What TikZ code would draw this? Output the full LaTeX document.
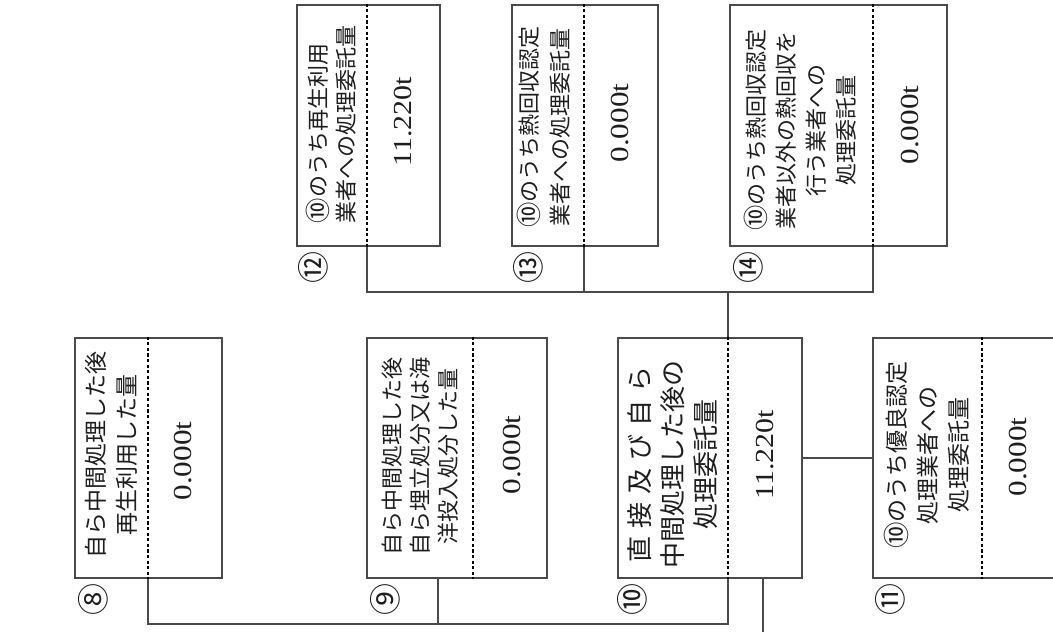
\documentclass[tikz,border=0pt]{standalone}
\usepackage{fontspec}
\newfontfamily\jp{Noto Sans CJK JP}
\newfontfamily\num{Liberation Serif}
\usetikzlibrary{calc}
\definecolor{InkDark}{HTML}{1E1E1E}
\definecolor{FrameGrey}{HTML}{4A4A4A}
\newcommand{\circten}{\raisebox{-0.05em}{\scalebox{1.15}{⑩}}}

\begin{document}
\begin{tikzpicture}[x=1pt,y=-1pt,
  formbox/.style={draw=FrameGrey,line width=2.7pt,inner sep=0pt},
  divider/.style={draw=black,line width=2.8pt,dash pattern=on 3.2pt off 2.4pt},
  wire/.style={draw=FrameGrey,line width=2.7pt},
  jptext/.style={rotate=90,align=center,text=InkDark,inner sep=0pt,font=\jp\fontsize{22}{29}\selectfont},
  amount/.style={rotate=90,text=InkDark,inner sep=0pt,font=\num\fontsize{26}{30}\selectfont},
  tag/.style={rotate=90,text=InkDark,inner sep=0pt,font=\jp\fontsize{32}{34}\selectfont}]
  \useasboundingbox (0,0) rectangle (1053,632);
  \clip (0,0) rectangle (1053,632);

  % upper row
  \node[formbox,minimum width=143,minimum height=241] (b12) at (368.5,125.5) {};
  \node[formbox,minimum width=146,minimum height=241] (b13) at (585,125.5) {};
  \node[formbox,minimum width=217,minimum height=241] (b14) at (838.5,125.5) {};
  % lower row
  \node[formbox,minimum width=147,minimum height=240] (b8) at (148.5,458) {};
  \node[formbox,minimum width=180,minimum height=240] (b9) at (457,458) {};
  \node[formbox,minimum width=184,minimum height=240] (b10) at (710,458) {};
  \node[formbox,minimum width=227,minimum height=240] (b11) at (986.5,458) {};

  % divider positions
  \coordinate (d8) at (148,0);
  \coordinate (d9) at (473,0);
  \coordinate (d10) at (728,0);
  \coordinate (d11) at (982,0);
  \coordinate (d12) at (367,0);
  \coordinate (d13) at (584,0);
  \coordinate (d14) at (873,0);
  \foreach \b in {8,...,14}
    \draw[divider] (b\b.north -| d\b) -- (b\b.south -| d\b);

  % texts
  \node[jptext,font=\jp\fontsize{23}{31}\selectfont] (t8) at (111.5,455) {自ら中間処理した後\\再生利用した量};
  \node[jptext,font=\jp\fontsize{22}{28}\selectfont] (t9) at (420,456) {自ら中間処理した後\\自ら埋立処分又は海\\洋投入処分した量};
  \node[jptext,font=\jp\fontsize{26}{33}\selectfont] (t10) at (673,464) {\makebox[196pt][s]{直\hfil 接\hfil 及\hfil び\hfil 自\hfil ら}\\中間処理した後の\\処理委託量};
  \node[jptext,font=\jp\fontsize{23}{31}\selectfont] (t11) at (927,455) {\circten のうち優良認定\\処理業者への\\処理委託量};
  \node[jptext,align=left,font=\jp\fontsize{22}{28}\selectfont] (t12) at (331,124) {\circten のうち再生利用\\業者への処理委託量};
  \node[jptext,font=\jp\fontsize{22}{31}\selectfont] (t13) at (544,127) {\circten のうち熱回収認定\\業者への処理委託量};
  \node[jptext,font=\jp\fontsize{22}{30}\selectfont] (t14) at (800,130) {\circten のうち熱回収認定\\業者以外の熱回収を\\行う業者への\\処理委託量};

  % amounts
  \node[amount] (v8) at (183,461) {\scalebox{1.2}[1]{0.000t}};
  \node[amount] (v9) at (512,455) {\scalebox{1.2}[1]{0.000t}};
  \node[amount] (v10) at (765,455) {\scalebox{1.15}[1]{11.220t}};
  \node[amount] (v11) at (1018,457) {\scalebox{1.2}[1]{0.000t}};
  \node[amount] (v12) at (403,122) {\scalebox{1.15}[1]{11.220t}};
  \node[amount] (v13) at (620,123) {\scalebox{1.2}[1]{0.000t}};
  \node[amount] (v14) at (910,125) {\scalebox{1.2}[1]{0.000t}};

  % circled numbers
  \node[tag] (n8) at (93,599) {⑧};
  \node[tag] (n9) at (385,599) {⑨};
  \node[tag] (n10) at (632,599) {⑩};
  \node[tag] (n11) at (890,599) {⑪};
  \node[tag] (n12) at (313,267) {⑫};
  \node[tag] (n13) at (528,267) {⑬};
  \node[tag] (n14) at (748,267) {⑭};

  % connectors
  \coordinate (trunk) at (0,292);
  \coordinate (bus) at (0,624);
  \coordinate (c9) at (438,0);
  \coordinate (exit) at (763,640);
  \draw[wire] (b12.south -| d12) -- (trunk -| d12) -- (trunk -| d14) -- (b14.south -| d14);
  \draw[wire] (b13.south -| d13) -- (trunk -| d13);
  \draw[wire] (trunk -| d10) -- (b10.north -| d10);
  \draw[wire] (b8.south -| d8) -- (bus -| d8) -- (bus -| d10) -- (b10.south -| d10);
  \draw[wire] (b9.south -| c9) -- (bus -| c9);
  \draw[wire] (b10) -- (b11);
  \draw[wire] (b10.south -| exit) -- (exit);
\end{tikzpicture}
\end{document}
